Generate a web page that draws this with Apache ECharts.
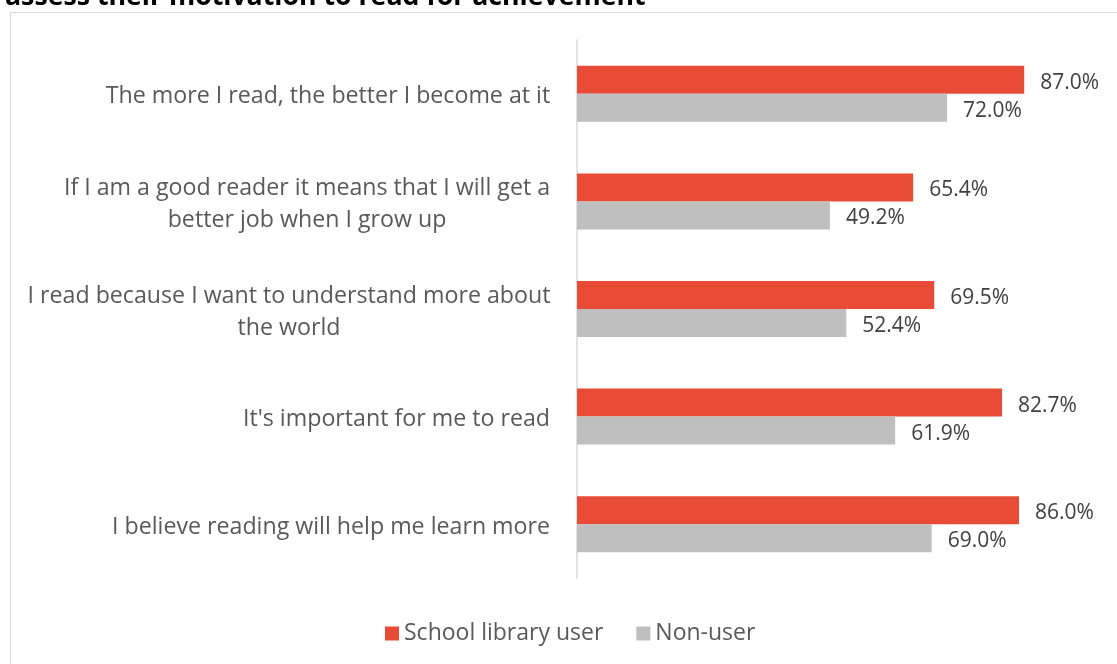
<!DOCTYPE html>
<html><head><meta charset="utf-8">
<script src="https://cdn.jsdelivr.net/npm/echarts@6/dist/echarts.min.js"></script>
<style>html,body{margin:0;padding:0;background:#fff}#c{width:1117px;height:664px}</style>
</head><body><div id="c"></div>
<script>
const categories = [
  "The more I read, the better I become at it",
  "If I am a good reader it means that I will get a\nbetter job when I grow up",
  "I read because I want to understand more about\nthe world",
  "It's important for me to read",
  "I believe reading will help me learn more"
];
const libraryUser = [87.0, 65.4, 69.5, 82.7, 86.0];
const nonUser = [72.0, 49.2, 52.4, 61.9, 69.0];
const seriesNames = ["School library user", "Non-user"];
const titleText = "assess their motivation to read for achievement";

const font = "'Open Sans', 'Noto Sans', sans-serif";
const labelSize = 23.2;
// measure lines so multi-line labels are centred within a right-aligned block
const ctx = document.createElement('canvas').getContext('2d');
ctx.font = labelSize + "px 'Open Sans'";
const rich = {};
categories.forEach((c, i) => {
  const w = Math.max(...c.split('\n').map(s => ctx.measureText(s).width));
  rich['c' + i] = {width: Math.ceil(w) + 1, align: 'center', fontSize: labelSize, color: '#595959',
    lineHeight: 32, padding: [6, 0, 0, 0], fontFamily: font};
});

const chart = echarts.init(document.getElementById('c'));
const lbl = {show: true, position: 'right', distance: 16, fontSize: 21, color: '#404040', fontFamily: font,
  offset: [0, 3], formatter: p => p.value.toFixed(1) + '%'};
chart.setOption({
  animation: false,
  title: {text: titleText, left: 0, top: -21, textStyle: {fontSize: 26.7, fontWeight: 'bold', color: '#000', fontFamily: "'Open Sans', sans-serif"}},
  graphic: [{type: 'rect', left: 8, top: 10, shape: {width: 1130, height: 670}, style: {fill: 'none', stroke: '#d9d9d9', lineWidth: 1}, z: -1}],
  legend: {bottom: 14, left: 380, itemWidth: 14, itemHeight: 14, itemGap: 33, icon: 'rect',
    textStyle: {fontSize: 23, color: '#595959', fontFamily: font}, data: seriesNames},
  grid: {left: 577, right: 26, top: 40, bottom: 86},
  xAxis: {type: 'value', min: 0, max: 100, show: false},
  yAxis: {type: 'category', inverse: true, data: categories,
    axisLine: {lineStyle: {color: '#d9d9d9', width: 1.5}}, axisTick: {show: false},
    axisLabel: {margin: 26, fontSize: labelSize, color: '#595959', lineHeight: 32, fontFamily: font, align: 'right',
      rich: rich,
      formatter: (v, i) => v.split('\n').map(s => '{c' + i + '|' + s + '}').join('\n')}},
  series: [
    {name: seriesNames[0], type: 'bar', data: libraryUser, barGap: '0%', barCategoryGap: '48%',
      itemStyle: {color: '#E84C37'}, label: lbl},
    {name: seriesNames[1], type: 'bar', data: nonUser, itemStyle: {color: '#BFBFBF'}, label: lbl}
  ]
});
</script></body></html>
